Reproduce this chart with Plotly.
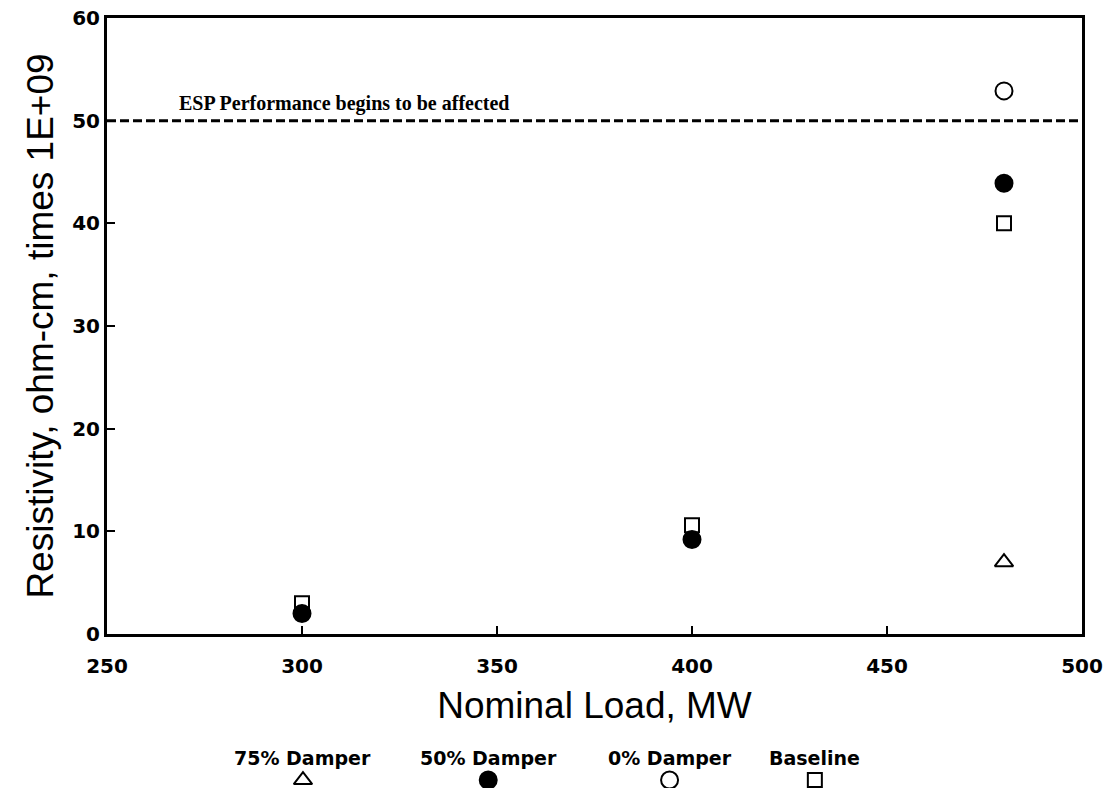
import plotly.graph_objects as go

# Data
load_mw = [300, 400, 480]
damper75 = [None, None, 7.0]
damper50 = [2.0, 9.2, 43.9]
damper0 = [None, None, 52.9]
baseline = [3.0, 10.6, 40.0]
threshold = 50
threshold_label = "ESP Performance begins to be affected"
series_names = ["75% Damper", "50% Damper", "0% Damper", "Baseline"]
x_ticks = [250, 300, 350, 400, 450, 500]
y_ticks = [0, 10, 20, 30, 40, 50, 60]

# Styles
symbols = ["triangle-up-open", "circle", "circle-open", "square-open"]
sizes = [16, 17, 17, 14]
legend_pos = [0.201, 0.391, 0.577, 0.726]

fig = go.Figure()

series_vals = [damper75, damper50, damper0, baseline]
for name, vals, sym, sz in zip(series_names, series_vals, symbols, sizes):
    xs = [x for x, v in zip(load_mw, vals) if v is not None]
    ys = [v for v in vals if v is not None]
    fig.add_trace(go.Scatter(
        x=xs, y=ys, mode="markers", name=name, showlegend=False,
        marker=dict(symbol=sym, size=sz, color="black",
                    line=dict(color="black", width=2)),
        xaxis="x", yaxis="y"))

# threshold line
fig.add_trace(go.Scatter(
    x=[x_ticks[0], x_ticks[-1]], y=[threshold, threshold], mode="lines",
    line=dict(color="black", width=3, dash="9px,4px"), showlegend=False,
    hoverinfo="skip"))

# custom legend below
for name, sym, sz, px in zip(series_names, symbols, sizes, legend_pos):
    fig.add_trace(go.Scatter(
        x=[px], y=[0.37], mode="markers", showlegend=False,
        marker=dict(symbol=sym, size=sz, color="black",
                    line=dict(color="black", width=2)),
        xaxis="x2", yaxis="y2", hoverinfo="skip"))
    fig.add_annotation(
        x=px, y=1.4, xref="x2", yref="y2", text=name, showarrow=False,
        font=dict(family="DejaVu Sans", size=19, color="black", weight="bold"),
        xanchor="center", yanchor="middle")

fig.add_annotation(
    x=268, y=threshold, xref="x", yref="y", text=threshold_label,
    showarrow=False, xanchor="left", yanchor="bottom", yshift=4,
    font=dict(family="Liberation Serif", size=20, color="black", weight="bold"))

axis_common = dict(
    showline=True, linecolor="black", linewidth=3, mirror=True,
    ticks="inside", ticklen=8, tickwidth=1.5, tickcolor="black",
    showgrid=False, zeroline=False,
    tickfont=dict(family="DejaVu Sans", size=20, color="black", weight="bold"),
)

fig.update_layout(
    width=1109, height=793,
    margin=dict(l=107, r=27, t=18, b=5, autoexpand=False),
    paper_bgcolor="white", plot_bgcolor="white",
    xaxis=dict(range=[x_ticks[0], x_ticks[-1]], tickvals=x_ticks,
               domain=[0, 1], anchor="y", ticklabelstandoff=12,
               automargin=False,
               title=dict(text="Nominal Load, MW", standoff=16,
                          font=dict(family="Liberation Sans", size=37, color="black")),
               **axis_common),
    yaxis=dict(range=[y_ticks[0], y_ticks[-1]], tickvals=y_ticks,
               domain=[0.2, 1], anchor="x", automargin=False,
               title=dict(text="Resistivity, ohm-cm, times 1E+09", standoff=8,
                          font=dict(family="Liberation Sans", size=37, color="black")),
               **axis_common),
    xaxis2=dict(range=[0, 1], domain=[0, 1], anchor="y2", visible=False),
    yaxis2=dict(range=[0, 2.5], domain=[0, 0.07], anchor="x2", visible=False),
)

fig.write_html("out.html")
